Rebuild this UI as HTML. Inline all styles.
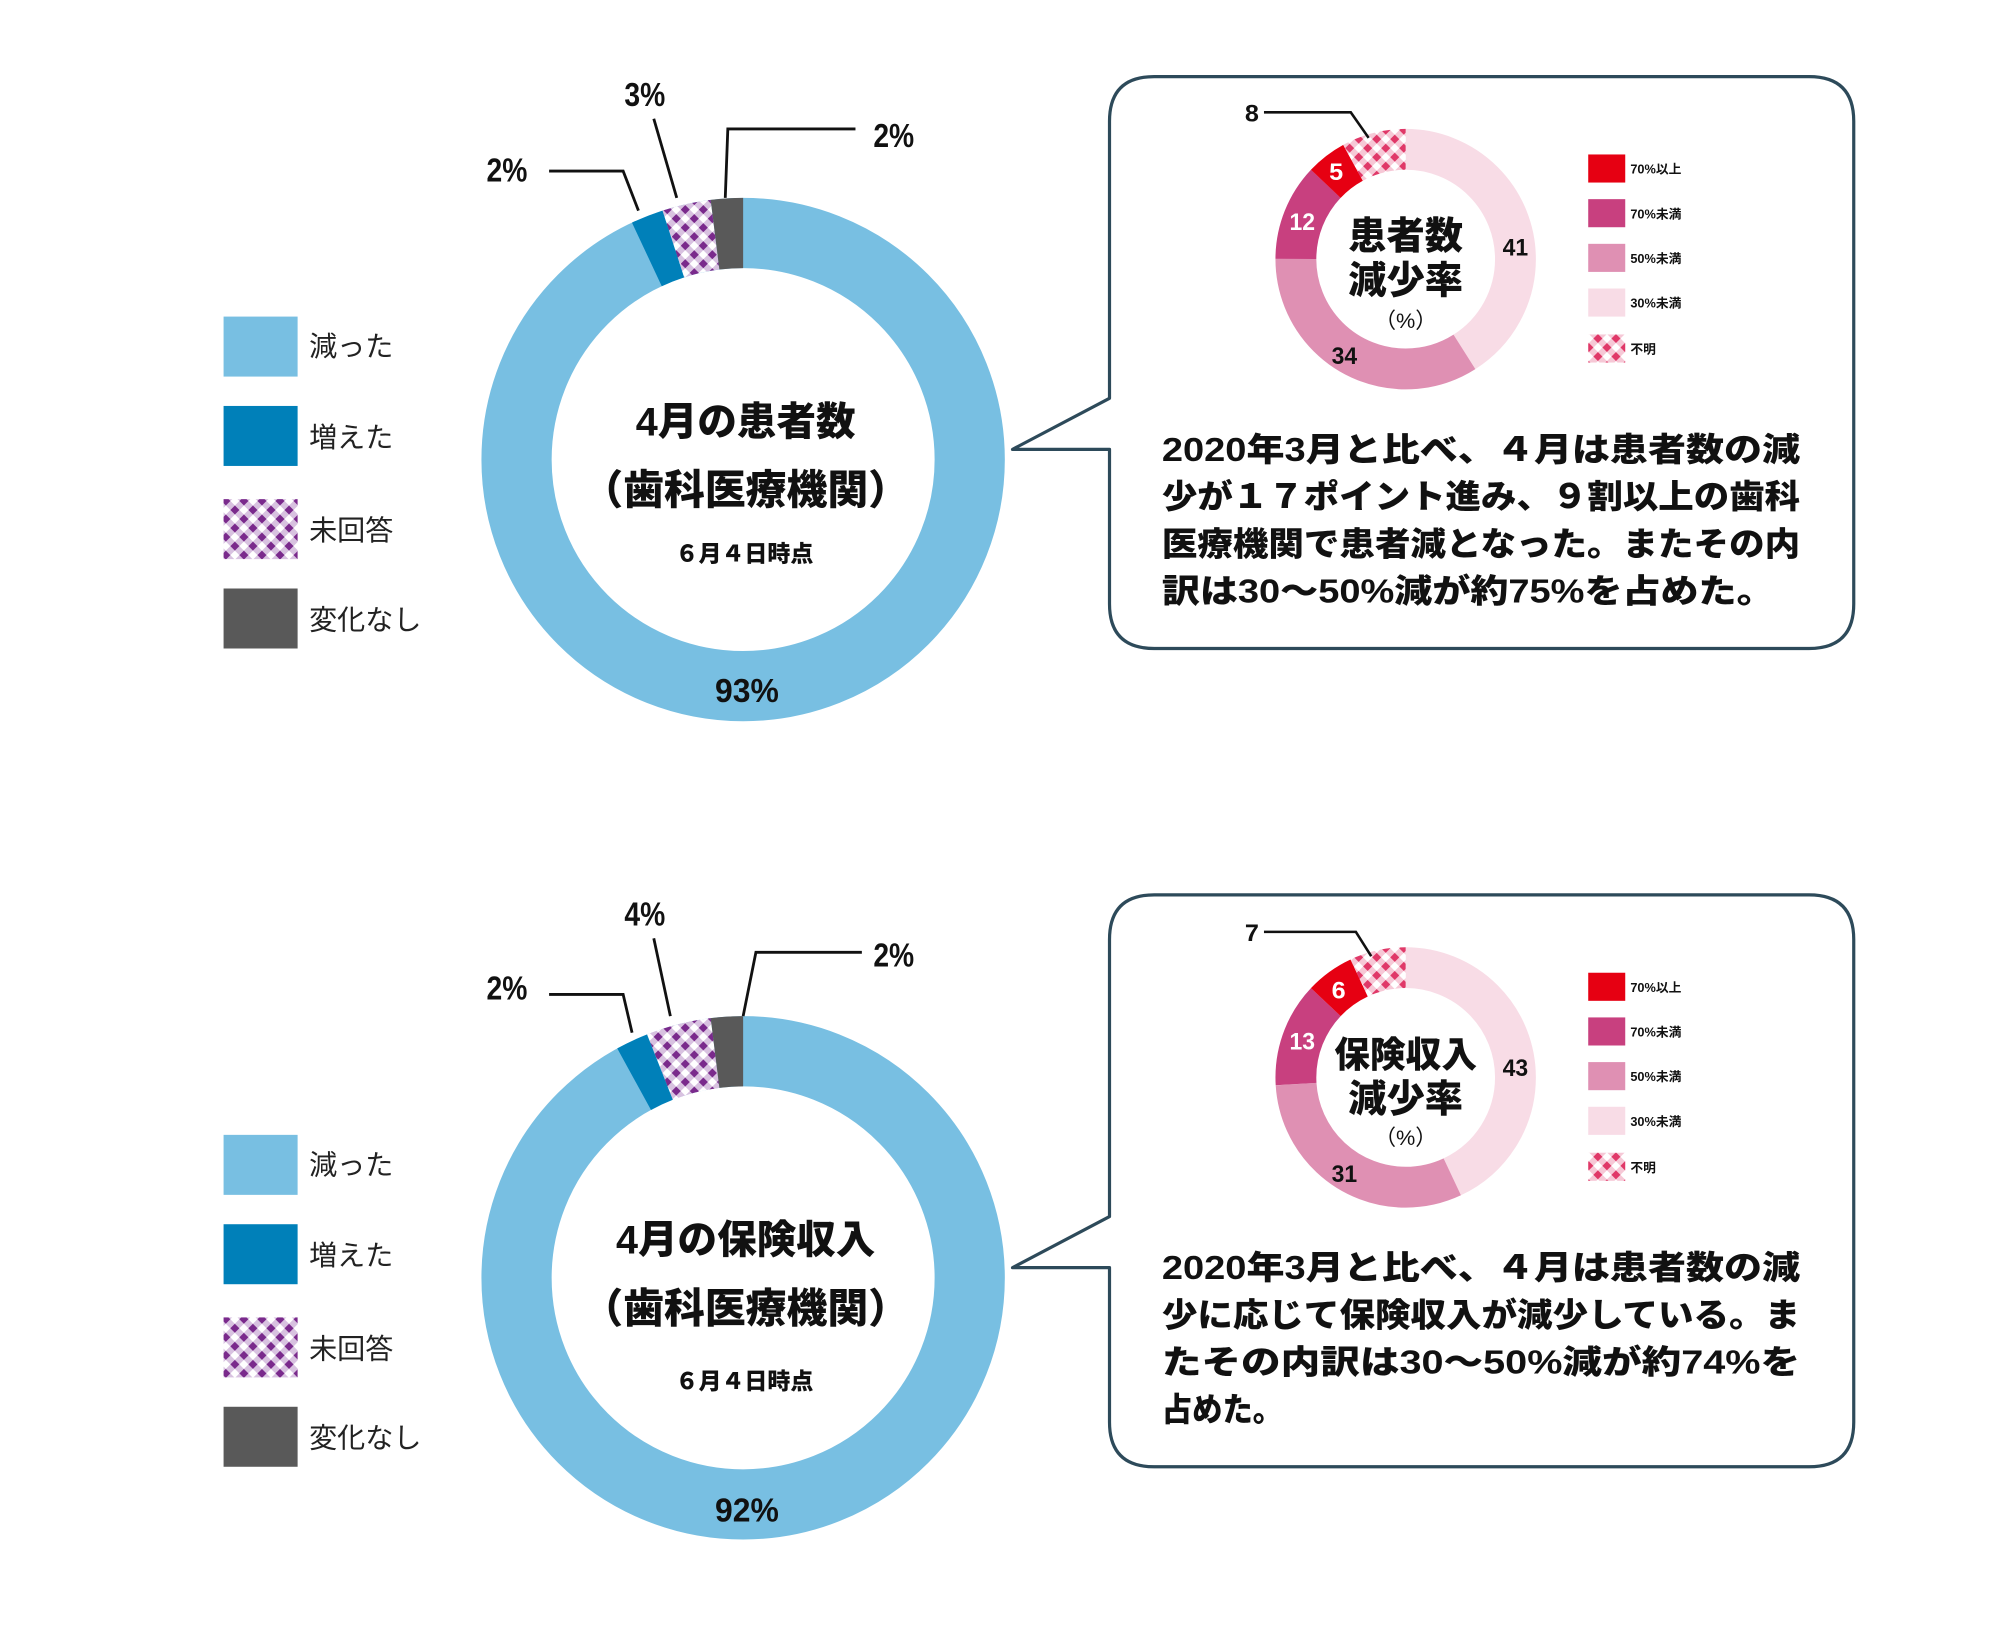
<!DOCTYPE html>
<html><head><meta charset="utf-8"><style>
html,body{margin:0;padding:0;background:#fff;}
svg{display:block;}
text{font-family:"Liberation Sans","Noto Sans CJK JP",sans-serif;}
.j{font-family:"Noto Sans CJK JP","Liberation Sans",sans-serif;}
</style></head><body>
<svg width="2002" height="1634" viewBox="0 0 1568 1280" xmlns="http://www.w3.org/2000/svg">
<defs>
<pattern id="pp" width="10" height="10" patternUnits="userSpaceOnUse" patternTransform="rotate(45)">
<rect width="10" height="10" fill="#d8c2e0"/><rect width="5" height="5" fill="#7a2a8c"/><rect x="5" y="5" width="5" height="5" fill="#fff"/>
</pattern>
<pattern id="pk" width="10" height="10" patternUnits="userSpaceOnUse" patternTransform="rotate(45)">
<rect width="10" height="10" fill="#f6c8d6"/><rect width="5" height="5" fill="#e03868"/><rect x="5" y="5" width="5" height="5" fill="#fff"/>
</pattern>
</defs>
<rect width="1568" height="1280" fill="#fff"/>

<g id="sec1">
<rect x="175" y="248" width="58" height="47" fill="#78bfe2"/>
<rect x="175" y="318" width="58" height="47" fill="#0080b9"/>
<rect x="175" y="391" width="58" height="47" fill="url(#pp)"/>
<rect x="175" y="461" width="58" height="47" fill="#595959"/>
<g class="j" font-size="22" fill="#222">
<text x="242" y="279">減った</text>
<text x="242" y="350">増えた</text>
<text x="242" y="423">未回答</text>
<text x="242" y="493">変化なし</text>
</g>
<g transform="rotate(-90 582 360)" fill="none" stroke-width="55">
<circle cx="582" cy="360" r="177.5" stroke="#78bfe2"/>
<circle cx="582" cy="360" r="177.5" stroke="#0080b9" stroke-dasharray="22.31 2000" stroke-dashoffset="-1037.2"/>
<circle cx="582" cy="360" r="177.5" stroke="url(#pp)" stroke-dasharray="33.46 2000" stroke-dashoffset="-1059.5"/>
<circle cx="582" cy="360" r="177.5" stroke="#595959" stroke-dasharray="22.31 2000" stroke-dashoffset="-1093.0"/>
</g>
<g fill="none" stroke="#111" stroke-width="2.2">
<polyline points="430,134 488,134 500,165"/>
<polyline points="512,93 530,155"/>
<polyline points="670,101 570,101 568,155"/>
</g>
<g font-size="26" fill="#111" font-weight="bold">
<text x="381" y="142" textLength="32" lengthAdjust="spacingAndGlyphs">2%</text>
<text x="489" y="83" textLength="32" lengthAdjust="spacingAndGlyphs">3%</text>
<text x="684" y="115" textLength="32" lengthAdjust="spacingAndGlyphs">2%</text>
<text x="560" y="550" textLength="50" lengthAdjust="spacingAndGlyphs">93%</text>
</g>
<g class="j" font-weight="900" fill="#111" text-anchor="middle">
<text x="584" y="341" font-size="31">4月の患者数</text>
<text x="584" y="395" font-size="32">（歯科医療機関）</text>
<text x="583" y="440" font-size="18">６月４日時点</text>
</g>
<path d="M904,60 H1417 Q1452,60 1452,95 V473 Q1452,508 1417,508 H904 Q869,508 869,473 V352 L793,352 L869,312 V95 Q869,60 904,60 Z" fill="#fff" stroke="#2d4a5a" stroke-width="2.5" stroke-linejoin="round"/>
<g transform="rotate(-90 1101 203)" fill="none" stroke-width="32">
<circle cx="1101" cy="203" r="86" stroke="#f8dce6" stroke-dasharray="221.5 2000"/>
<circle cx="1101" cy="203" r="86" stroke="#df90b3" stroke-dasharray="183.7 2000" stroke-dashoffset="-221.5"/>
<circle cx="1101" cy="203" r="86" stroke="#c8407f" stroke-dasharray="64.84 2000" stroke-dashoffset="-405.3"/>
<circle cx="1101" cy="203" r="86" stroke="#e60012" stroke-dasharray="27.02 2000" stroke-dashoffset="-470.1"/>
<circle cx="1101" cy="203" r="86" stroke="url(#pk)" stroke-dasharray="43.23 2000" stroke-dashoffset="-497.1"/>
</g>
<polyline points="990,88 1058,88 1072,108" fill="none" stroke="#111" stroke-width="2"/>
<g font-size="19" font-weight="bold">
<text x="975" y="95" fill="#111" textLength="11" lengthAdjust="spacingAndGlyphs">8</text>
<text x="1041" y="141" fill="#fff" textLength="11" lengthAdjust="spacingAndGlyphs">5</text>
<text x="1010" y="180" fill="#fff" textLength="20" lengthAdjust="spacingAndGlyphs">12</text>
<text x="1177" y="200" fill="#111" textLength="20" lengthAdjust="spacingAndGlyphs">41</text>
<text x="1043" y="285" fill="#111" textLength="20" lengthAdjust="spacingAndGlyphs">34</text>
</g>
<g class="j" font-weight="900" fill="#111" text-anchor="middle">
<text x="1101" y="195" font-size="30">患者数</text>
<text x="1101" y="230" font-size="30">減少率</text>
<text x="1101" y="257" font-size="17" font-weight="normal">（%）</text>
</g>
<rect x="1244" y="121" width="29" height="22" fill="#e60012"/>
<rect x="1244" y="156" width="29" height="22" fill="#c8407f"/>
<rect x="1244" y="191" width="29" height="22" fill="#df90b3"/>
<rect x="1244" y="226" width="29" height="22" fill="#f8dce6"/>
<rect x="1244" y="262" width="29" height="22" fill="url(#pk)"/>
<g class="j" font-size="10" font-weight="bold" fill="#111">
<text x="1277" y="136">70%以上</text>
<text x="1277" y="171">70%未満</text>
<text x="1277" y="206">50%未満</text>
<text x="1277" y="241">30%未満</text>
<text x="1277" y="277">不明</text>
</g>
<g class="j" font-size="26" font-weight="900" fill="#111">
<text x="910" y="361" textLength="500" lengthAdjust="spacingAndGlyphs">2020年3月と比べ、４月は患者数の減</text>
<text x="910" y="398" textLength="500" lengthAdjust="spacingAndGlyphs">少が１７ポイント進み、９割以上の歯科</text>
<text x="910" y="435" textLength="500" lengthAdjust="spacingAndGlyphs">医療機関で患者減となった。またその内</text>
<text x="910" y="472" textLength="480" lengthAdjust="spacingAndGlyphs">訳は30～50%減が約75%を占めた。</text>
</g>
</g>

<g transform="translate(0,641)">
<rect x="175" y="248" width="58" height="47" fill="#78bfe2"/>
<rect x="175" y="318" width="58" height="47" fill="#0080b9"/>
<rect x="175" y="391" width="58" height="47" fill="url(#pp)"/>
<rect x="175" y="461" width="58" height="47" fill="#595959"/>
<g class="j" font-size="22" fill="#222">
<text x="242" y="279">減った</text>
<text x="242" y="350">増えた</text>
<text x="242" y="423">未回答</text>
<text x="242" y="493">変化なし</text>
</g>
<g transform="rotate(-90 582 360)" fill="none" stroke-width="55">
<circle cx="582" cy="360" r="177.5" stroke="#78bfe2"/>
<circle cx="582" cy="360" r="177.5" stroke="#0080b9" stroke-dasharray="22.31 2000" stroke-dashoffset="-1026.0"/>
<circle cx="582" cy="360" r="177.5" stroke="url(#pp)" stroke-dasharray="44.61 2000" stroke-dashoffset="-1048.4"/>
<circle cx="582" cy="360" r="177.5" stroke="#595959" stroke-dasharray="22.31 2000" stroke-dashoffset="-1093.0"/>
</g>
<g fill="none" stroke="#111" stroke-width="2.2">
<polyline points="430,138 488,138 495,168"/>
<polyline points="512,94 525,155"/>
<polyline points="675,105 592,105 582,155"/>
</g>
<g font-size="26" fill="#111" font-weight="bold">
<text x="381" y="142" textLength="32" lengthAdjust="spacingAndGlyphs">2%</text>
<text x="489" y="84" textLength="32" lengthAdjust="spacingAndGlyphs">4%</text>
<text x="684" y="116" textLength="32" lengthAdjust="spacingAndGlyphs">2%</text>
<text x="560" y="551" textLength="50" lengthAdjust="spacingAndGlyphs">92%</text>
</g>
<g class="j" font-weight="900" fill="#111" text-anchor="middle">
<text x="584" y="341" font-size="31">4月の保険収入</text>
<text x="584" y="395" font-size="32">（歯科医療機関）</text>
<text x="583" y="447" font-size="18">６月４日時点</text>
</g>
<path d="M904,60 H1417 Q1452,60 1452,95 V473 Q1452,508 1417,508 H904 Q869,508 869,473 V352 L793,352 L869,312 V95 Q869,60 904,60 Z" fill="#fff" stroke="#2d4a5a" stroke-width="2.5" stroke-linejoin="round"/>
<g transform="rotate(-90 1101 203)" fill="none" stroke-width="32">
<circle cx="1101" cy="203" r="86" stroke="#f8dce6" stroke-dasharray="232.35 2000"/>
<circle cx="1101" cy="203" r="86" stroke="#df90b3" stroke-dasharray="167.5 2000" stroke-dashoffset="-232.35"/>
<circle cx="1101" cy="203" r="86" stroke="#c8407f" stroke-dasharray="70.25 2000" stroke-dashoffset="-399.86"/>
<circle cx="1101" cy="203" r="86" stroke="#e60012" stroke-dasharray="32.42 2000" stroke-dashoffset="-470.1"/>
<circle cx="1101" cy="203" r="86" stroke="url(#pk)" stroke-dasharray="37.82 2000" stroke-dashoffset="-502.5"/>
</g>
<polyline points="990,89 1062,89 1074,108" fill="none" stroke="#111" stroke-width="2"/>
<g font-size="19" font-weight="bold">
<text x="975" y="96" fill="#111" textLength="11" lengthAdjust="spacingAndGlyphs">7</text>
<text x="1043" y="141" fill="#fff" textLength="11" lengthAdjust="spacingAndGlyphs">6</text>
<text x="1010" y="181" fill="#fff" textLength="20" lengthAdjust="spacingAndGlyphs">13</text>
<text x="1177" y="202" fill="#111" textLength="20" lengthAdjust="spacingAndGlyphs">43</text>
<text x="1043" y="285" fill="#111" textLength="20" lengthAdjust="spacingAndGlyphs">31</text>
</g>
<g class="j" font-weight="900" fill="#111" text-anchor="middle">
<text x="1101" y="195" font-size="28">保険収入</text>
<text x="1101" y="230" font-size="30">減少率</text>
<text x="1101" y="256" font-size="17" font-weight="normal">（%）</text>
</g>
<rect x="1244" y="121" width="29" height="22" fill="#e60012"/>
<rect x="1244" y="156" width="29" height="22" fill="#c8407f"/>
<rect x="1244" y="191" width="29" height="22" fill="#df90b3"/>
<rect x="1244" y="226" width="29" height="22" fill="#f8dce6"/>
<rect x="1244" y="262" width="29" height="22" fill="url(#pk)"/>
<g class="j" font-size="10" font-weight="bold" fill="#111">
<text x="1277" y="136">70%以上</text>
<text x="1277" y="171">70%未満</text>
<text x="1277" y="206">50%未満</text>
<text x="1277" y="241">30%未満</text>
<text x="1277" y="277">不明</text>
</g>
<g class="j" font-size="26" font-weight="900" fill="#111">
<text x="910" y="361" textLength="500" lengthAdjust="spacingAndGlyphs">2020年3月と比べ、４月は患者数の減</text>
<text x="910" y="398" textLength="500" lengthAdjust="spacingAndGlyphs">少に応じて保険収入が減少している。ま</text>
<text x="910" y="435" textLength="500" lengthAdjust="spacingAndGlyphs">たその内訳は30～50%減が約74%を</text>
<text x="910" y="472" textLength="95" lengthAdjust="spacingAndGlyphs">占めた。</text>
</g>
</g>
</svg>
</body></html>
